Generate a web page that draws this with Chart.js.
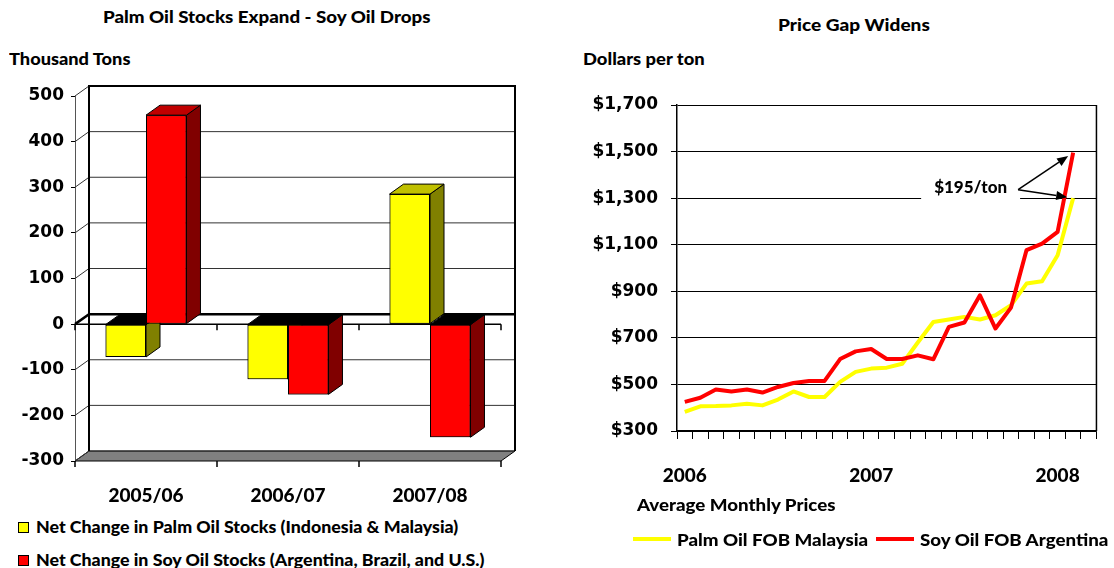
<!DOCTYPE html>
<html>
<head>
<meta charset="utf-8">
<script src="https://cdn.jsdelivr.net/npm/chart.js@4.4.0/dist/chart.umd.min.js"></script>
<style>
body { margin: 0; width: 1114px; height: 568px; background: #fff; position: relative; overflow: hidden;
       font-family: Lato, "Open Sans", sans-serif; font-weight: 900; color: #000; }
.t { position: absolute; white-space: nowrap; line-height: 20px; transform-origin: 0 50%; }
#stocks { position: absolute; left: 0; top: 70px; }
#prices { position: absolute; left: 560px; top: 80px; }
.box { position: absolute; width: 9px; height: 9px; border: 1px solid #000; }
.ln { position: absolute; height: 4px; width: 38px; }
</style>
</head>
<body>

<div class="t" style="left:103px;top:7px;font-size:16px;transform:scaleX(1.17)">Palm Oil Stocks Expand - Soy Oil Drops</div>
<div class="t" style="left:9px;top:49px;font-size:17px;transform:scaleX(1.07)">Thousand Tons</div>
<div class="t" style="left:778px;top:15px;font-size:17px;transform:scaleX(1.12)">Price Gap Widens</div>
<div class="t" style="left:583px;top:49px;font-size:17px;transform:scaleX(1.08)">Dollars per ton</div>

<canvas id="stocks" width="540" height="440"></canvas>
<canvas id="prices" width="554" height="420"></canvas>

<div class="box" style="left:18px;top:522px;background:#ffff00"></div>
<div class="t" style="left:36px;top:517px;font-size:16px;transform:scaleX(1.11)">Net Change in Palm Oil Stocks (Indonesia &amp; Malaysia)</div>
<div class="box" style="left:18px;top:555px;background:#ff0000"></div>
<div class="t" style="left:36px;top:550px;font-size:16px;transform:scaleX(1.11)">Net Change in Soy Oil Stocks (Argentina, Brazil, and U.S.)</div>

<div class="t" style="left:637px;top:495px;font-size:17px;transform:scaleX(1.1)">Average Monthly Prices</div>
<div class="ln" style="left:633px;top:537px;background:#ffff00"></div>
<div class="t" style="left:677px;top:530px;font-size:17px;transform:scaleX(1.1)">Palm Oil FOB Malaysia</div>
<div class="ln" style="left:876px;top:537px;background:#ff0000"></div>
<div class="t" style="left:920px;top:530px;font-size:17px;transform:scaleX(1.1)">Soy Oil FOB Argentina</div>

<script>
// left chart: net change in stocks, thousand tons
const seasons = ['2005/06', '2006/07', '2007/08'];
const palmStocks = [-72, -121, 285];
const soyStocks = [458, -154, -248];
const stockTicks = ['-300', '-200', '-100', '0', '100', '200', '300', '400', '500'];

// right chart: average monthly prices, dollars per ton
const months = ['Jan 2006', 'Feb 2006', 'Mar 2006', 'Apr 2006', 'May 2006', 'Jun 2006',
  'Jul 2006', 'Aug 2006', 'Sep 2006', 'Oct 2006', 'Nov 2006', 'Dec 2006',
  'Jan 2007', 'Feb 2007', 'Mar 2007', 'Apr 2007', 'May 2007', 'Jun 2007',
  'Jul 2007', 'Aug 2007', 'Sep 2007', 'Oct 2007', 'Nov 2007', 'Dec 2007',
  'Jan 2008', 'Feb 2008', 'Mar 2008'];
const palmPrice = [382, 406, 407, 410, 417, 410, 435, 470, 446, 446, 511, 554, 568,
  572, 589, 680, 768, 779, 790, 779, 797, 840, 933, 943, 1055, 1300];
const soyPrice = [425, 443, 478, 470, 478, 465, 489, 506, 515, 515, 609, 642, 652,
  609, 609, 625, 608, 747, 766, 883, 740, 830, 1077, 1105, 1155, 1495];
const priceTicks = ['$300', '$500', '$700', '$900', '$1,100', '$1,300', '$1,500', '$1,700'];

Chart.defaults.font.family = 'Lato, "Open Sans", sans-serif';
Chart.defaults.font.weight = '900';
Chart.defaults.color = '#000';
const numFont = { family: '"DejaVu Sans", sans-serif', size: 17, weight: 'bold' };

// depth of the 3D box
const depth = 14, rise = 10;

const box3d = {
  id: 'box3d',
  beforeDatasetsDraw(chart) {
    const { ctx, chartArea: a, scales: { x, y } } = chart;
    ctx.save();
    ctx.strokeStyle = '#000';
    ctx.lineWidth = 1;
    // floor
    ctx.fillStyle = '#808080';
    ctx.beginPath();
    ctx.moveTo(a.left, a.bottom);
    ctx.lineTo(a.right, a.bottom);
    ctx.lineTo(a.right + depth, a.bottom - rise);
    ctx.lineTo(a.left + depth, a.bottom - rise);
    ctx.closePath();
    ctx.fill();
    ctx.stroke();
    // gridlines on side and back walls
    y.ticks.forEach(t => {
      const py = y.getPixelForValue(t.value);
      ctx.beginPath();
      ctx.moveTo(a.left, py);
      ctx.lineTo(a.left + depth, py - rise);
      ctx.lineTo(a.right + depth, py - rise);
      ctx.lineWidth = t.value === 0 ? 2.5 : 1;
      ctx.strokeStyle = t.value === 0 ? '#000' : '#333';
      ctx.stroke();
    });
    // back wall edges
    ctx.strokeStyle = '#000';
    ctx.lineWidth = 2;
    ctx.beginPath();
    ctx.moveTo(a.left + depth, a.bottom - rise);
    ctx.lineTo(a.left + depth, a.top - rise);
    ctx.lineTo(a.right + depth, a.top - rise);
    ctx.lineTo(a.right + depth, a.bottom - rise);
    ctx.stroke();
    // category axis at zero and floor ticks
    const y0 = y.getPixelForValue(0);
    const step = (a.right - a.left) / x.ticks.length;
    ctx.lineWidth = 1.5;
    ctx.beginPath();
    ctx.moveTo(a.left, y0);
    ctx.lineTo(a.right, y0);
    for (let i = 0; i <= x.ticks.length; i++) {
      const px = a.left + i * step;
      ctx.moveTo(px, y0);
      ctx.lineTo(px, y0 + 6);
      ctx.moveTo(px, a.bottom);
      ctx.lineTo(px, a.bottom + 6);
    }
    ctx.stroke();
    ctx.restore();
  },
  afterDatasetsDraw(chart) {
    const ctx = chart.ctx;
    const sets = chart.data.datasets;
    ctx.save();
    ctx.strokeStyle = '#000';
    ctx.lineWidth = 1;
    for (let j = 0; j < chart.data.labels.length; j++) {
      for (let i = 0; i < sets.length; i++) {
        const el = chart.getDatasetMeta(i).data[j];
        const p = el.getProps(['x', 'y', 'base', 'width'], true);
        const l = p.x - p.width / 2, r = p.x + p.width / 2;
        const top = Math.min(p.y, p.base), bot = Math.max(p.y, p.base);
        // side
        ctx.fillStyle = sets[i].sideColor;
        ctx.beginPath();
        ctx.moveTo(r, top);
        ctx.lineTo(r + depth, top - rise);
        ctx.lineTo(r + depth, bot - rise);
        ctx.lineTo(r, bot);
        ctx.closePath();
        ctx.fill();
        ctx.stroke();
        // top
        ctx.fillStyle = p.y < p.base ? sets[i].topColor : '#000';
        ctx.beginPath();
        ctx.moveTo(l, top);
        ctx.lineTo(l + depth, top - rise);
        ctx.lineTo(r + depth, top - rise);
        ctx.lineTo(r, top);
        ctx.closePath();
        ctx.fill();
        ctx.stroke();
        // front again so the next bar covers this one
        el.draw(ctx);
      }
    }
    ctx.restore();
  }
};

new Chart(document.getElementById('stocks'), {
  type: 'bar',
  data: {
    labels: seasons,
    datasets: [{
      label: 'Net Change in Palm Oil Stocks (Indonesia & Malaysia)',
      data: palmStocks,
      backgroundColor: '#ffff00',
      sideColor: '#808000',
      topColor: '#c0c000'
    }, {
      label: 'Net Change in Soy Oil Stocks (Argentina, Brazil, and U.S.)',
      data: soyStocks,
      backgroundColor: '#ff0000',
      sideColor: '#800000',
      topColor: '#c00000'
    }]
  },
  options: {
    responsive: false,
    animation: false,
    devicePixelRatio: 1,
    layout: { padding: { top: 26, right: 39, left: 0, bottom: 0 } },
    datasets: {
      bar: {
        borderColor: '#000',
        borderWidth: 1,
        borderSkipped: false,
        categoryPercentage: 0.57,
        barPercentage: 1
      }
    },
    plugins: { legend: { display: false }, tooltip: { enabled: false } },
    scales: {
      x: {
        grid: { display: false },
        border: { display: false },
        ticks: { font: { size: 19 }, padding: 15 },
        afterFit(scale) { scale.height = 49; }
      },
      y: {
        min: -300,
        max: 500,
        grid: { drawOnChartArea: false, tickLength: 4, color: '#000' },
        border: { color: '#555', width: 1 },
        ticks: {
          stepSize: 100,
          padding: 7,
          font: numFont,
          callback: (v, i) => stockTicks[i]
        },
        afterFit(scale) { scale.width = 75; }
      }
    }
  },
  plugins: [box3d]
});

const gapNote = {
  id: 'gapNote',
  beforeDatasetsDraw(chart) {
    const { ctx, chartArea: a, scales: { x, y } } = chart;
    ctx.save();
    ctx.strokeStyle = '#000';
    ctx.lineWidth = 1.5;
    ctx.beginPath();
    ctx.moveTo(a.right, a.top);
    ctx.lineTo(a.right, a.bottom);
    ctx.stroke();
    ctx.font = '900 17px Lato, "Open Sans", sans-serif';
    const cx = x.getPixelForValue(18.4), cy = y.getPixelForValue(1345);
    const w = ctx.measureText('$195/ton').width;
    ctx.fillStyle = '#fff';
    ctx.fillRect(cx - w / 2 - 13, cy - 12, w + 26, 25);
    ctx.fillStyle = '#000';
    ctx.textAlign = 'center';
    ctx.textBaseline = 'middle';
    ctx.fillText('$195/ton', cx, cy);
    chart.$gapFrom = { x: cx + w / 2 + 11, y: cy + 2 };
    ctx.restore();
  },
  afterDatasetsDraw(chart) {
    const ctx = chart.ctx;
    const from = chart.$gapFrom;
    ctx.save();
    ctx.strokeStyle = '#000';
    ctx.fillStyle = '#000';
    ctx.lineWidth = 1.5;
    [0, 1].forEach(i => {
      const pts = chart.getDatasetMeta(i).data;
      const end = pts[pts.length - 1];
      const dx = from.x - end.x, dy = from.y - end.y;
      const len = Math.hypot(dx, dy);
      const ux = dx / len, uy = dy / len;
      const tip = { x: end.x + ux * 6, y: end.y + uy * 6 };
      const bx = tip.x + ux * 11, by = tip.y + uy * 11;
      ctx.beginPath();
      ctx.moveTo(from.x, from.y);
      ctx.lineTo(bx, by);
      ctx.stroke();
      ctx.beginPath();
      ctx.moveTo(tip.x, tip.y);
      ctx.lineTo(bx - uy * 4.5, by + ux * 4.5);
      ctx.lineTo(bx + uy * 4.5, by - ux * 4.5);
      ctx.closePath();
      ctx.fill();
    });
    ctx.restore();
  }
};

new Chart(document.getElementById('prices'), {
  type: 'line',
  data: {
    labels: months,
    datasets: [{
      label: 'Palm Oil FOB Malaysia',
      data: palmPrice,
      borderColor: '#ffff00',
      order: 1
    }, {
      label: 'Soy Oil FOB Argentina',
      data: soyPrice,
      borderColor: '#ff0000',
      order: 0
    }]
  },
  options: {
    responsive: false,
    animation: false,
    devicePixelRatio: 1,
    layout: { padding: { top: 25, right: 17, left: 0, bottom: 0 } },
    datasets: {
      line: { borderWidth: 4, pointRadius: 0, tension: 0, borderJoinStyle: 'round' }
    },
    plugins: { legend: { display: false }, tooltip: { enabled: false } },
    scales: {
      x: {
        offset: true,
        grid: { offset: true, drawOnChartArea: false, tickLength: 8, color: '#000' },
        border: { color: '#000', width: 1.5 },
        ticks: {
          autoSkip: false,
          maxRotation: 0,
          padding: 25,
          font: { size: 19 },
          callback: (v, i) => months[i].startsWith('Jan') ? months[i].slice(4) : ''
        },
        afterFit(scale) { scale.height = 69; }
      },
      y: {
        min: 300,
        max: 1700,
        grid: { tickLength: 6, color: '#000', lineWidth: 1 },
        border: { color: '#000', width: 1.5 },
        ticks: {
          stepSize: 200,
          padding: 13,
          font: numFont,
          callback: (v, i) => priceTicks[i]
        },
        afterFit(scale) { scale.width = 117; }
      }
    }
  },
  plugins: [gapNote]
});
</script>
</body>
</html>
